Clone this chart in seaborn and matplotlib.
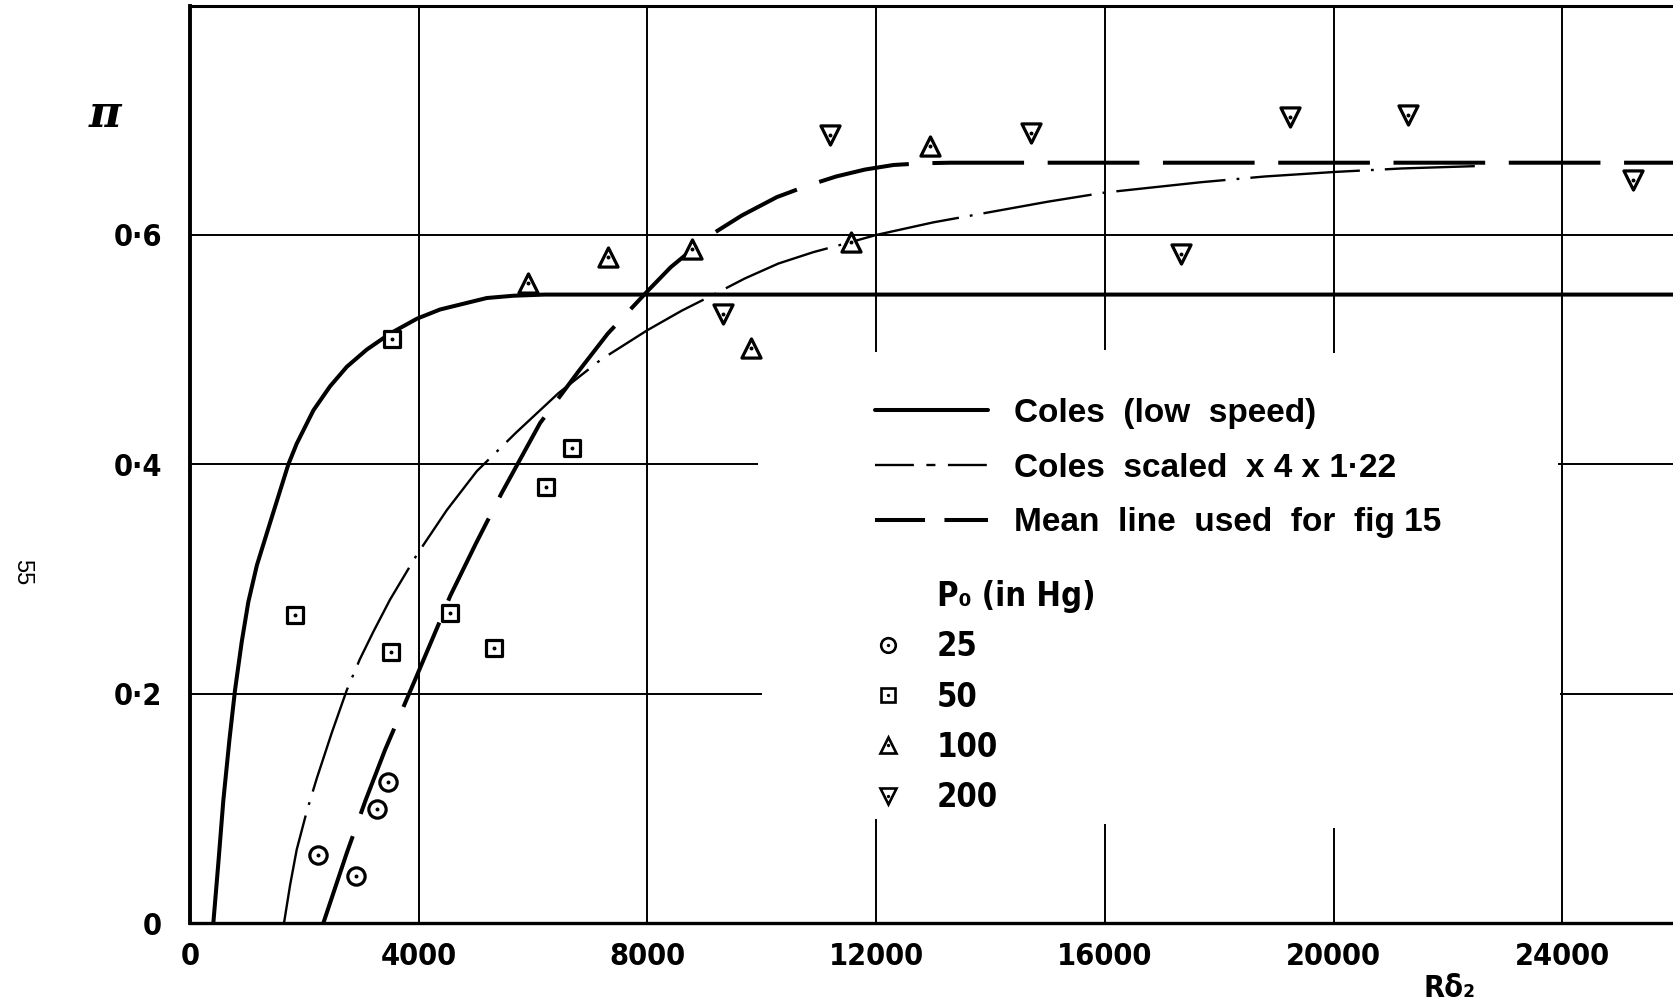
import matplotlib
matplotlib.use('Agg')
import matplotlib.pyplot as plt
import seaborn as sns
import pandas as pd
from matplotlib import font_manager as fm
from matplotlib.font_manager import FontProperties
from matplotlib.lines import Line2D
from matplotlib.legend_handler import HandlerTuple

# ---------------- data ----------------
x_ticks = [0, 4000, 8000, 12000, 16000, 20000, 24000]
x_tick_labels = ['0', '4000', '8000', '12000', '16000', '20000', '24000']
y_ticks = [0, 0.2, 0.4, 0.6]
y_tick_labels = ['0', '0·2', '0·4', '0·6']

# P0 = 25 in Hg (circles)
p25_x = [2244, 2898, 3276, 3469]
p25_y = [0.059, 0.041, 0.099, 0.123]
# P0 = 50 in Hg (squares)
p50_x = [1837, 3510, 3527, 4548, 5317, 6221, 6687]
p50_y = [0.269, 0.236, 0.509, 0.270, 0.240, 0.380, 0.414]
# P0 = 100 in Hg (up triangles)
p100_x = [5918, 7306, 8777, 9815, 11556, 12941]
p100_y = [0.558, 0.581, 0.588, 0.501, 0.594, 0.678]
# P0 = 200 in Hg (down triangles)
p200_x = [9314, 11187, 14700, 17333, 19239, 21291, 25227]
p200_y = [0.531, 0.687, 0.689, 0.583, 0.703, 0.705, 0.648]

# Coles (low speed) - solid curve
coles_x = [408, 450, 500, 583, 690, 787, 904, 1020, 1170, 1400, 1720, 1866, 2157,
           2449, 2741, 3090, 3498, 3970, 4373, 4781, 5189, 5655, 6200, 26000]
coles_y = [0.0, 0.025, 0.055, 0.107, 0.160, 0.203, 0.245, 0.280, 0.312, 0.349, 0.400,
           0.418, 0.447, 0.468, 0.485, 0.500, 0.514, 0.527, 0.535, 0.540, 0.545, 0.547,
           0.548, 0.548]
# Coles scaled x 4 x 1.22 - dash-dot curve
scaled_x = [1644, 1750, 1866, 2040, 2216, 2480, 2741, 2970, 3206, 3498, 3965, 4490,
            5015, 5710, 6442, 7178, 8000, 8600, 9196, 9700, 10285, 10900, 11570, 12000,
            13000, 14000, 15000, 16000, 17682, 18800, 20037, 21200, 22467]
scaled_y = [0.0, 0.033, 0.064, 0.097, 0.126, 0.166, 0.203, 0.230, 0.254, 0.282, 0.321,
            0.360, 0.394, 0.428, 0.462, 0.491, 0.517, 0.534, 0.549, 0.562, 0.575, 0.585,
            0.594, 0.600, 0.611, 0.620, 0.629, 0.637, 0.646, 0.651, 0.655, 0.658, 0.660]
# Mean line used for fig 15 - dashed curve
mean_x = [2332, 2741, 3070, 3411, 3935, 4343, 4548, 5000, 5451, 6122, 6793, 7306, 8000,
          8409, 9043, 9650, 10262, 10800, 11300, 11800, 12300, 12800, 13300, 26000]
mean_y = [0.0, 0.061, 0.107, 0.151, 0.212, 0.260, 0.285, 0.331, 0.375, 0.436, 0.481,
          0.514, 0.551, 0.572, 0.598, 0.617, 0.633, 0.643, 0.651, 0.657, 0.661, 0.6625,
          0.663, 0.663]

line_labels = ['Coles  (low  speed)', 'Coles  scaled  x 4 x 1·22',
               'Mean  line  used  for  fig 15']
group_title = 'P₀ (in Hg)'
group_labels = ['25', '50', '100', '200']

# ---------------- style ----------------
sns.set_theme(style='white')
plt.rcParams.update({'text.color': 'black', 'axes.labelcolor': 'black',
                     'xtick.color': 'black', 'ytick.color': 'black',
                     'lines.scale_dashes': False})

ttf = fm.fontManager.ttflist
names = {f.name for f in ttf}
COND_STRETCHES = ('condensed', 'semi-condensed', 'extra-condensed', 'ultra-condensed')


def wnum(w):
    if isinstance(w, (int, float)):
        return float(w)
    try:
        return float(w)
    except (TypeError, ValueError):
        return float(fm.weight_dict.get(str(w).lower(), 400))


cands = [f for f in ttf
         if str(f.style) == 'normal'
         and ('Narrow' in f.name or 'Condensed' in f.name or str(f.stretch) in COND_STRETCHES)]
best = None
if cands:
    best = min(cands, key=lambda f: (abs(wnum(f.weight) - 700),
                                     0 if 'Liberation' in f.name else 1))
WIDE = 'Liberation Sans' if 'Liberation Sans' in names else 'DejaVu Sans'
if best is not None and wnum(best.weight) >= 400:
    num_fp = dict(family=[best.name, 'DejaVu Sans'], stretch=best.stretch,
                  weight=best.weight)
    tick_size, lab_size = 22, 23.5
else:
    num_fp = dict(family=[WIDE, 'DejaVu Sans'], weight='bold')
    tick_size, lab_size = 19, 21
plt.rcParams['font.family'] = [num_fp['family'][0], 'DejaVu Sans']

W, H = 1674, 1005
fig = plt.figure(figsize=(W / 100, H / 100), dpi=100)
fig.patch.set_facecolor('white')
x0, y0, ytop = 190, 923, 5.6
ax = fig.add_axes([x0 / W, 1 - y0 / H, 1 - x0 / W, (y0 - ytop) / H])
ax.set_facecolor('white')
XMAX = 25950
ax.set_xlim(0, XMAX)
ax.set_ylim(0, 0.8)

for side, lw in [('left', 2.8), ('bottom', 2.4), ('top', 2.2)]:
    ax.spines[side].set_linewidth(lw)
    ax.spines[side].set_color('black')
ax.spines['right'].set_visible(False)

# grid (partially interrupted as in the original drawing)
glw = 1.4
ax.hlines([0.6], 0, XMAX, color='black', lw=glw, zorder=1)
ax.hlines([0.4, 0.2], 0, [9925, 10000], color='black', lw=glw, zorder=1)
ax.hlines([0.4, 0.2], [23930, 23960], XMAX, color='black', lw=glw, zorder=1)
ax.vlines([4000, 8000, 24000], 0, 0.8, color='black', lw=glw, zorder=1)
ax.vlines([12000, 16000, 20000], [0.498, 0.5, 0.497], 0.8, color='black', lw=glw, zorder=1)
ax.vlines([12000, 16000, 20000], 0, [0.091, 0.086, 0.083], color='black', lw=glw, zorder=1)

# curves
ls_dashdot = (0, (79, 8, 2, 8))
ls_dash = (0, (66, 17))
sns.lineplot(data=pd.DataFrame({'x': coles_x, 'y': coles_y}), x='x', y='y', ax=ax,
             color='black', lw=2.9, linestyle='-', estimator=None, sort=False, zorder=3)
sns.lineplot(data=pd.DataFrame({'x': scaled_x, 'y': scaled_y}), x='x', y='y', ax=ax,
             color='black', lw=1.7, linestyle=ls_dashdot, estimator=None, sort=False, zorder=3)
sns.lineplot(data=pd.DataFrame({'x': mean_x, 'y': mean_y}), x='x', y='y', ax=ax,
             color='black', lw=2.9, linestyle=ls_dash, estimator=None, sort=False, zorder=3)

# markers
series = [(p25_x, p25_y, 'o', 155), (p50_x, p50_y, 's', 130),
          (p100_x, p100_y, '^', 190), (p200_x, p200_y, 'v', 190)]
for xs, ys, m, s in series:
    sns.scatterplot(x=xs, y=ys, ax=ax, marker=m, s=s, facecolor='white',
                    edgecolor='black', linewidth=2.3, zorder=5)
    sns.scatterplot(x=xs, y=ys, ax=ax, marker='o', s=8, color='black',
                    linewidth=0, zorder=6)

# ticks
ax.set_xticks(x_ticks)
ax.set_xticklabels(x_tick_labels, fontproperties=FontProperties(size=tick_size, **num_fp))
ax.set_yticks(y_ticks)
ax.set_yticklabels(y_tick_labels, fontproperties=FontProperties(size=tick_size, **num_fp))
ax.tick_params(axis='x', length=0, pad=14, colors='black')
ax.tick_params(axis='y', length=0, pad=20, colors='black')
ax.set_xlabel('')
ax.set_ylabel('')
ax.grid(False)

# axis titles
fig.text(105 / W, 1 - 114 / H, 'π', fontsize=32, style='italic', fontweight='bold',
         ha='center', va='center', family=['DejaVu Serif', 'DejaVu Sans'], color='black')
fig.text(1450 / W, 1 - 988 / H, 'Rδ₂', ha='center', va='center', color='black',
         fontproperties=FontProperties(size=tick_size, **num_fp))
fig.text(22 / W, 1 - 572 / H, '55', fontsize=17, rotation=270, ha='center', va='center',
         family=[WIDE, 'DejaVu Sans'], color='black')

# legend: lines
h_lines = [Line2D([], [], color='black', lw=2.9, linestyle='-'),
           Line2D([], [], color='black', lw=1.7, linestyle=(0, (28, 9, 6.5, 9))),
           Line2D([], [], color='black', lw=2.9, linestyle=(0, (36, 14)))]
leg1 = ax.legend(h_lines, line_labels, loc='upper left',
                 bbox_to_anchor=(875 / W, 1 - 398 / H), bbox_transform=fig.transFigure,
                 frameon=False, borderpad=0, borderaxespad=0, handlelength=3.39,
                 handletextpad=0.78, labelspacing=0.71,
                 prop={'family': [WIDE, 'DejaVu Sans'], 'weight': 'bold', 'size': 24})
for t in leg1.get_texts():
    t.set_color('black')
ax.add_artist(leg1)


# legend: pressure groups
def mk(m, ms):
    return (Line2D([], [], ls='none', marker=m, ms=ms, mfc='white', mec='black', mew=1.9),
            Line2D([], [], ls='none', marker='o', ms=2.4, mfc='black', mec='black', mew=0))


fs_px = lab_size * 100 / 72
h_groups = [Line2D([], [], ls='none'), mk('o', 10.5), mk('s', 9.5), mk('^', 11), mk('v', 11)]
leg2 = ax.legend(h_groups, [group_title] + group_labels, loc='upper left',
                 bbox_to_anchor=(875 / W, 1 - 580 / H), bbox_transform=fig.transFigure,
                 frameon=False, borderpad=0, borderaxespad=0,
                 handlelength=26 / fs_px, handletextpad=36 / fs_px,
                 labelspacing=(47.0 - 0.91 * fs_px) / fs_px,
                 handler_map={tuple: HandlerTuple(ndivide=1)},
                 prop=FontProperties(size=lab_size, **num_fp))
for t in leg2.get_texts():
    t.set_color('black')

fig.savefig('out.png', dpi=100, facecolor='white')
